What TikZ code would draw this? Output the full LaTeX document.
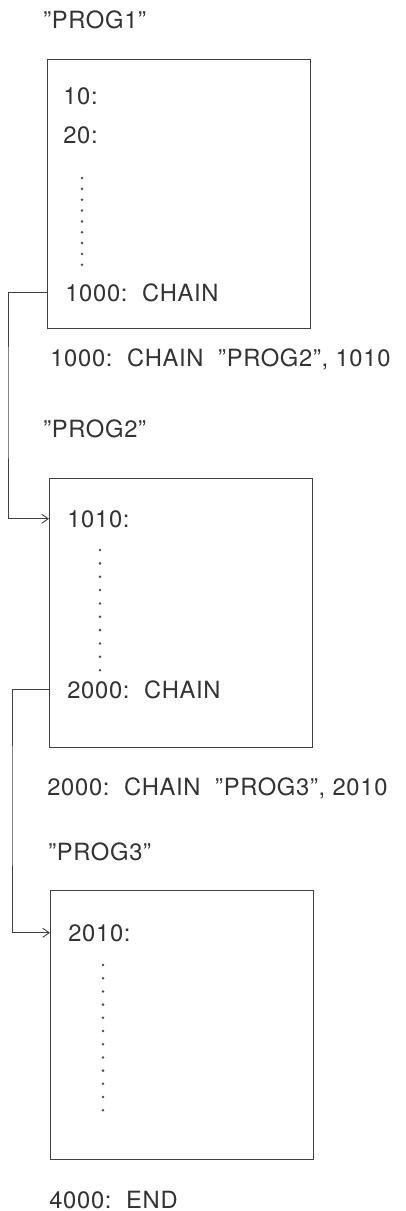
\documentclass[tikz,border=0pt]{standalone}
\usepackage{fontspec}
\setmainfont{TeX Gyre Heros}[LetterSpace=3]
\usetikzlibrary{arrows.meta}

\begin{document}
\begin{tikzpicture}

    % Styles
    \tikzset{
        code text/.style={anchor=base west, inner sep=0pt, text=black!80,
            font=\fontsize{13.5}{16}\selectfont},
        prog box/.style={draw=black!75, line width=0.7pt, anchor=north west,
            minimum width=5.26cm, minimum height=5.38cm, inner sep=0pt},
        chain line/.style={draw=black!75, line width=0.5pt},
        chain arrow/.style={chain line, -{Straight Barb[length=1.3mm,width=1.8mm]}}
    }

    \useasboundingbox (0,0) rectangle (8.12,-24.22);

    % Program boxes
    \node[prog box] (box1) at (0.94,-1.18) {};
    \node[prog box] (box2) at (0.98,-9.56) {};
    \node[prog box] (box3) at (1.00,-17.80) {};

    % Names and lines
    \node[code text] (name1) at (0.86,-0.58) {''PROG1''};
    \node[code text] (line10) at (1.26,-2.10) {10:};
    \node[code text] (line20) at (1.26,-2.87) {20:};
    \node[code text] (chain1) at (1.30,-6.03) {1000:\ \ CHAIN};
    \node[code text] (call1) at (1.00,-7.33) {1000:\ \ CHAIN\ \ ''PROG2'', 1010};

    \node[code text] (name2) at (0.86,-8.74) {''PROG2''};
    \node[code text] (line1010) at (1.34,-10.54) {1010:};
    \node[code text] (chain2) at (1.34,-13.96) {2000:\ \ CHAIN};
    \node[code text] (call2) at (0.94,-15.90) {2000:\ \ CHAIN\ \ ''PROG3'', 2010};

    \node[code text] (name3) at (0.96,-17.20) {''PROG3''};
    \node[code text] (line2010) at (1.36,-18.82) {2010:};
    \node[code text] (end) at (0.98,-24.16) {4000:\ \ END};

    % Dotted gaps
    \foreach \i in {0,...,8}
        \fill[black!70] (1.64,-3.56-0.217*\i) circle (0.028);
    \foreach \i in {0,...,9}
        \fill[black!70] (2.00,-11.00-0.267*\i) circle (0.028);
    \foreach \i in {0,...,11}
        \fill[black!70] (2.06,-19.30-0.264*\i) circle (0.028);

    % Chain connectors
    \coordinate (turn1) at (0.16,-8);
    \coordinate (turn2) at (0.24,-16);
    \draw[chain arrow] (box1.west |- chain1.west) -| (turn1) |- (box2.west |- line1010.west);
    \draw[chain arrow] (box2.west |- chain2.west) -| (turn2) |- (box3.west |- line2010.west);
\end{tikzpicture}
\end{document}
